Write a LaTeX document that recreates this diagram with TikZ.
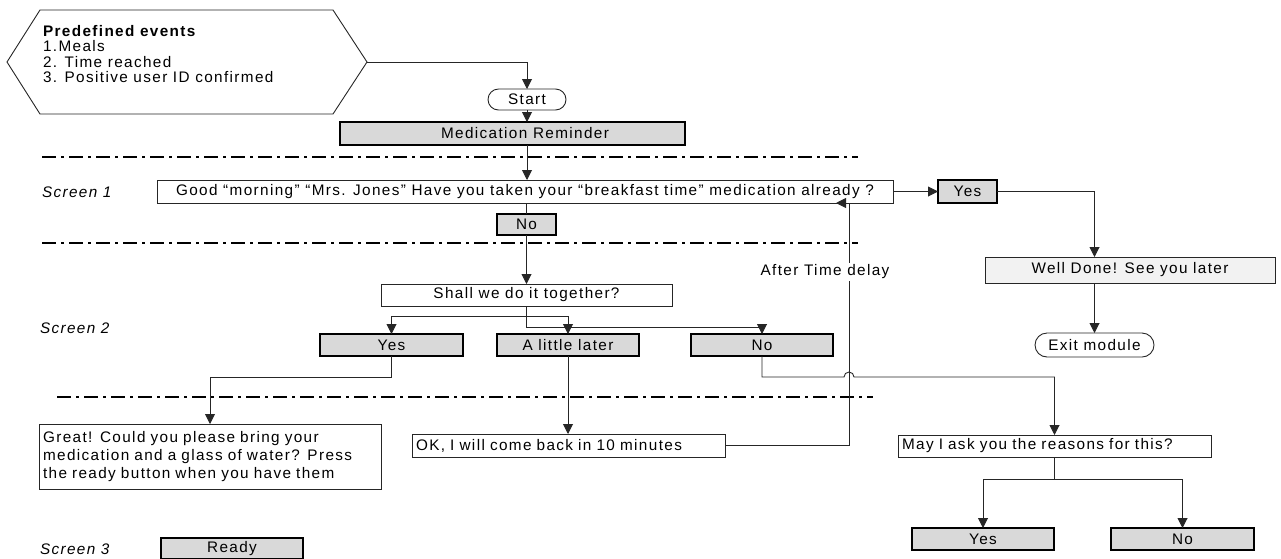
\documentclass[tikz,border=0pt]{standalone}
\usepackage{fontspec}
\setmainfont{Liberation Sans}[LetterSpace=9]
\usetikzlibrary{arrows.meta,shapes.misc}
\definecolor{btngray}{HTML}{D9D9D9}
\definecolor{lightfill}{HTML}{F2F2F2}
\definecolor{linec}{HTML}{262626}
\begin{document}
\begin{tikzpicture}[x=1pt,y=-1pt,
  every node/.style={font=\fontsize{15.3}{18}\selectfont, inner sep=0pt, outer sep=0pt, text=black},
  box/.style={draw=linec, line width=0.9pt, fill=white},
  btn/.style={draw=black, line width=2.4pt, fill=btngray, minimum height=22pt},
  rbox/.style={rounded rectangle, draw=linec, line width=0.9pt, fill=white},
  lbox/.style={box, align=left, inner xsep=4pt},
  conn/.style={draw=linec, line width=0.9pt},
  arr/.style={conn, -{Triangle[length=10pt,width=10pt]}},
  sep/.style={draw=black, line width=1.8pt, dash pattern=on 14pt off 5pt on 3pt off 5pt},
  scr/.style={anchor=west, font=\fontsize{15.3}{18}\selectfont\itshape}
]
\useasboundingbox (0,0) rectangle (1281,558);

% separators
\draw[sep] (42,157) -- (858,157);
\draw[sep] (42,243) -- (858,243);
\draw[sep] (57,397) -- (873,397);

% predefined events hexagon
\draw[box] (7,62) -- (40,10) -- (333,10) -- (367,62) -- (333,114) -- (40,114) -- cycle;
\coordinate (hexR) at (367,62);
\node[anchor=north west, align=left, font=\fontsize{15.3}{15.5}\selectfont] (events) at (43,25)
  {\textbf{Predefined events}\\1.Meals\\2. Time reached\\3. Positive user ID confirmed};

% nodes
\node[rbox, minimum width=78pt, minimum height=21pt] (start) at (527,99.5) {Start};
\node[btn, minimum width=345pt, minimum height=23pt,
      label={[xshift=12.5pt]center:Medication Reminder}] (medrem) at (512.5,133.5) {};
\node[box, minimum width=736pt, minimum height=23pt] (s1) at (525,191.5)
  {Good “morning” “Mrs. Jones” Have you taken your “breakfast time” medication already ?};
\node[btn, minimum width=59pt, minimum height=23pt] (yes1) at (967.5,191.5) {Yes};
\node[btn, minimum width=59pt, minimum height=21pt] (no1) at (526.5,224.5) {No};
\node[box, fill=lightfill, minimum width=290pt, minimum height=26pt] (well) at (1130,270) {Well Done! See you later};
\node[rbox, minimum width=119pt, minimum height=24pt] (exit) at (1094.5,345) {Exit module};
\node[box, minimum width=291pt, minimum height=22pt] (shall) at (526.5,295) {Shall we do it together?};
\node[btn, minimum width=143pt] (yes2) at (391.5,345) {Yes};
\node[btn, minimum width=142pt] (later) at (568,345) {A little later};
\node[btn, minimum width=142pt] (no2) at (762,345) {No};
\node[lbox, text width=334pt, minimum height=65pt] (great) at (210,456.5)
  {Great! Could you please bring your\\medication and a glass of water? Press\\the ready button when you have them};
\node[lbox, text width=305pt, minimum height=23pt] (ok) at (568.5,445.5) {OK, I will come back in 10 minutes};
\node[lbox, text width=305pt, minimum height=22pt] (may) at (1054.5,446) {May I ask you the reasons for this?};
\node[btn, minimum width=142pt] (yes3) at (983,539) {Yes};
\node[btn, minimum width=143pt] (no3) at (1182.5,539) {No};
\node[btn, minimum width=142pt, minimum height=21pt] (ready) at (232,548.5) {Ready};

% screen labels
\node[scr] (sc1) at (42,192) {Screen 1};
\node[scr] (sc2) at (40,328) {Screen 2};
\node[scr] (sc3) at (40,549) {Screen 3};

% connectors
\draw[arr] (hexR) -| (start.north);
\draw[arr] (start.south) -- (start.south |- medrem.north);
\draw[arr] (medrem.south -| start.south) -- (s1.north -| start.south);
\draw[arr] (s1.east) -- (yes1.west);
\draw[arr] (yes1.east) -| (exit.north |- well.north);
\draw[arr] (well.south -| exit.north) -- (exit.north);
\draw[conn] (s1.south -| no1.north) -- (no1.north);
\draw[arr] (no1.south) -- (no1.south |- shall.north);
\coordinate (b1) at (526.5,316);
\coordinate (b2) at (526.5,327);
\draw[arr] (shall.south) -- (b1) -| (yes2.north);
\draw[arr] (shall.south) -- (b2) -| (no2.north);
\draw[arr] (b1) -| (later.north);
\draw[arr] (yes2.south) -- ++(0,21) -| (great.north);
\draw[arr] (later.south) -- (later.south |- ok.north);
\coordinate (delayend) at (836,203);
\draw[arr] (ok.east) -| (849,203) -- (delayend);
\node[fill=white, inner sep=2pt] (delay) at (825,272) {After Time delay};
\draw[arr] (no2.south) -- ++(0,21) -- (844,377) arc[start angle=180, end angle=360, radius=5] -| (may.north);
\coordinate (b3) at (1054.5,479);
\draw[arr] (may.south) -- (b3) -| (yes3.north);
\draw[arr] (b3) -| (no3.north);
\end{tikzpicture}
\end{document}
